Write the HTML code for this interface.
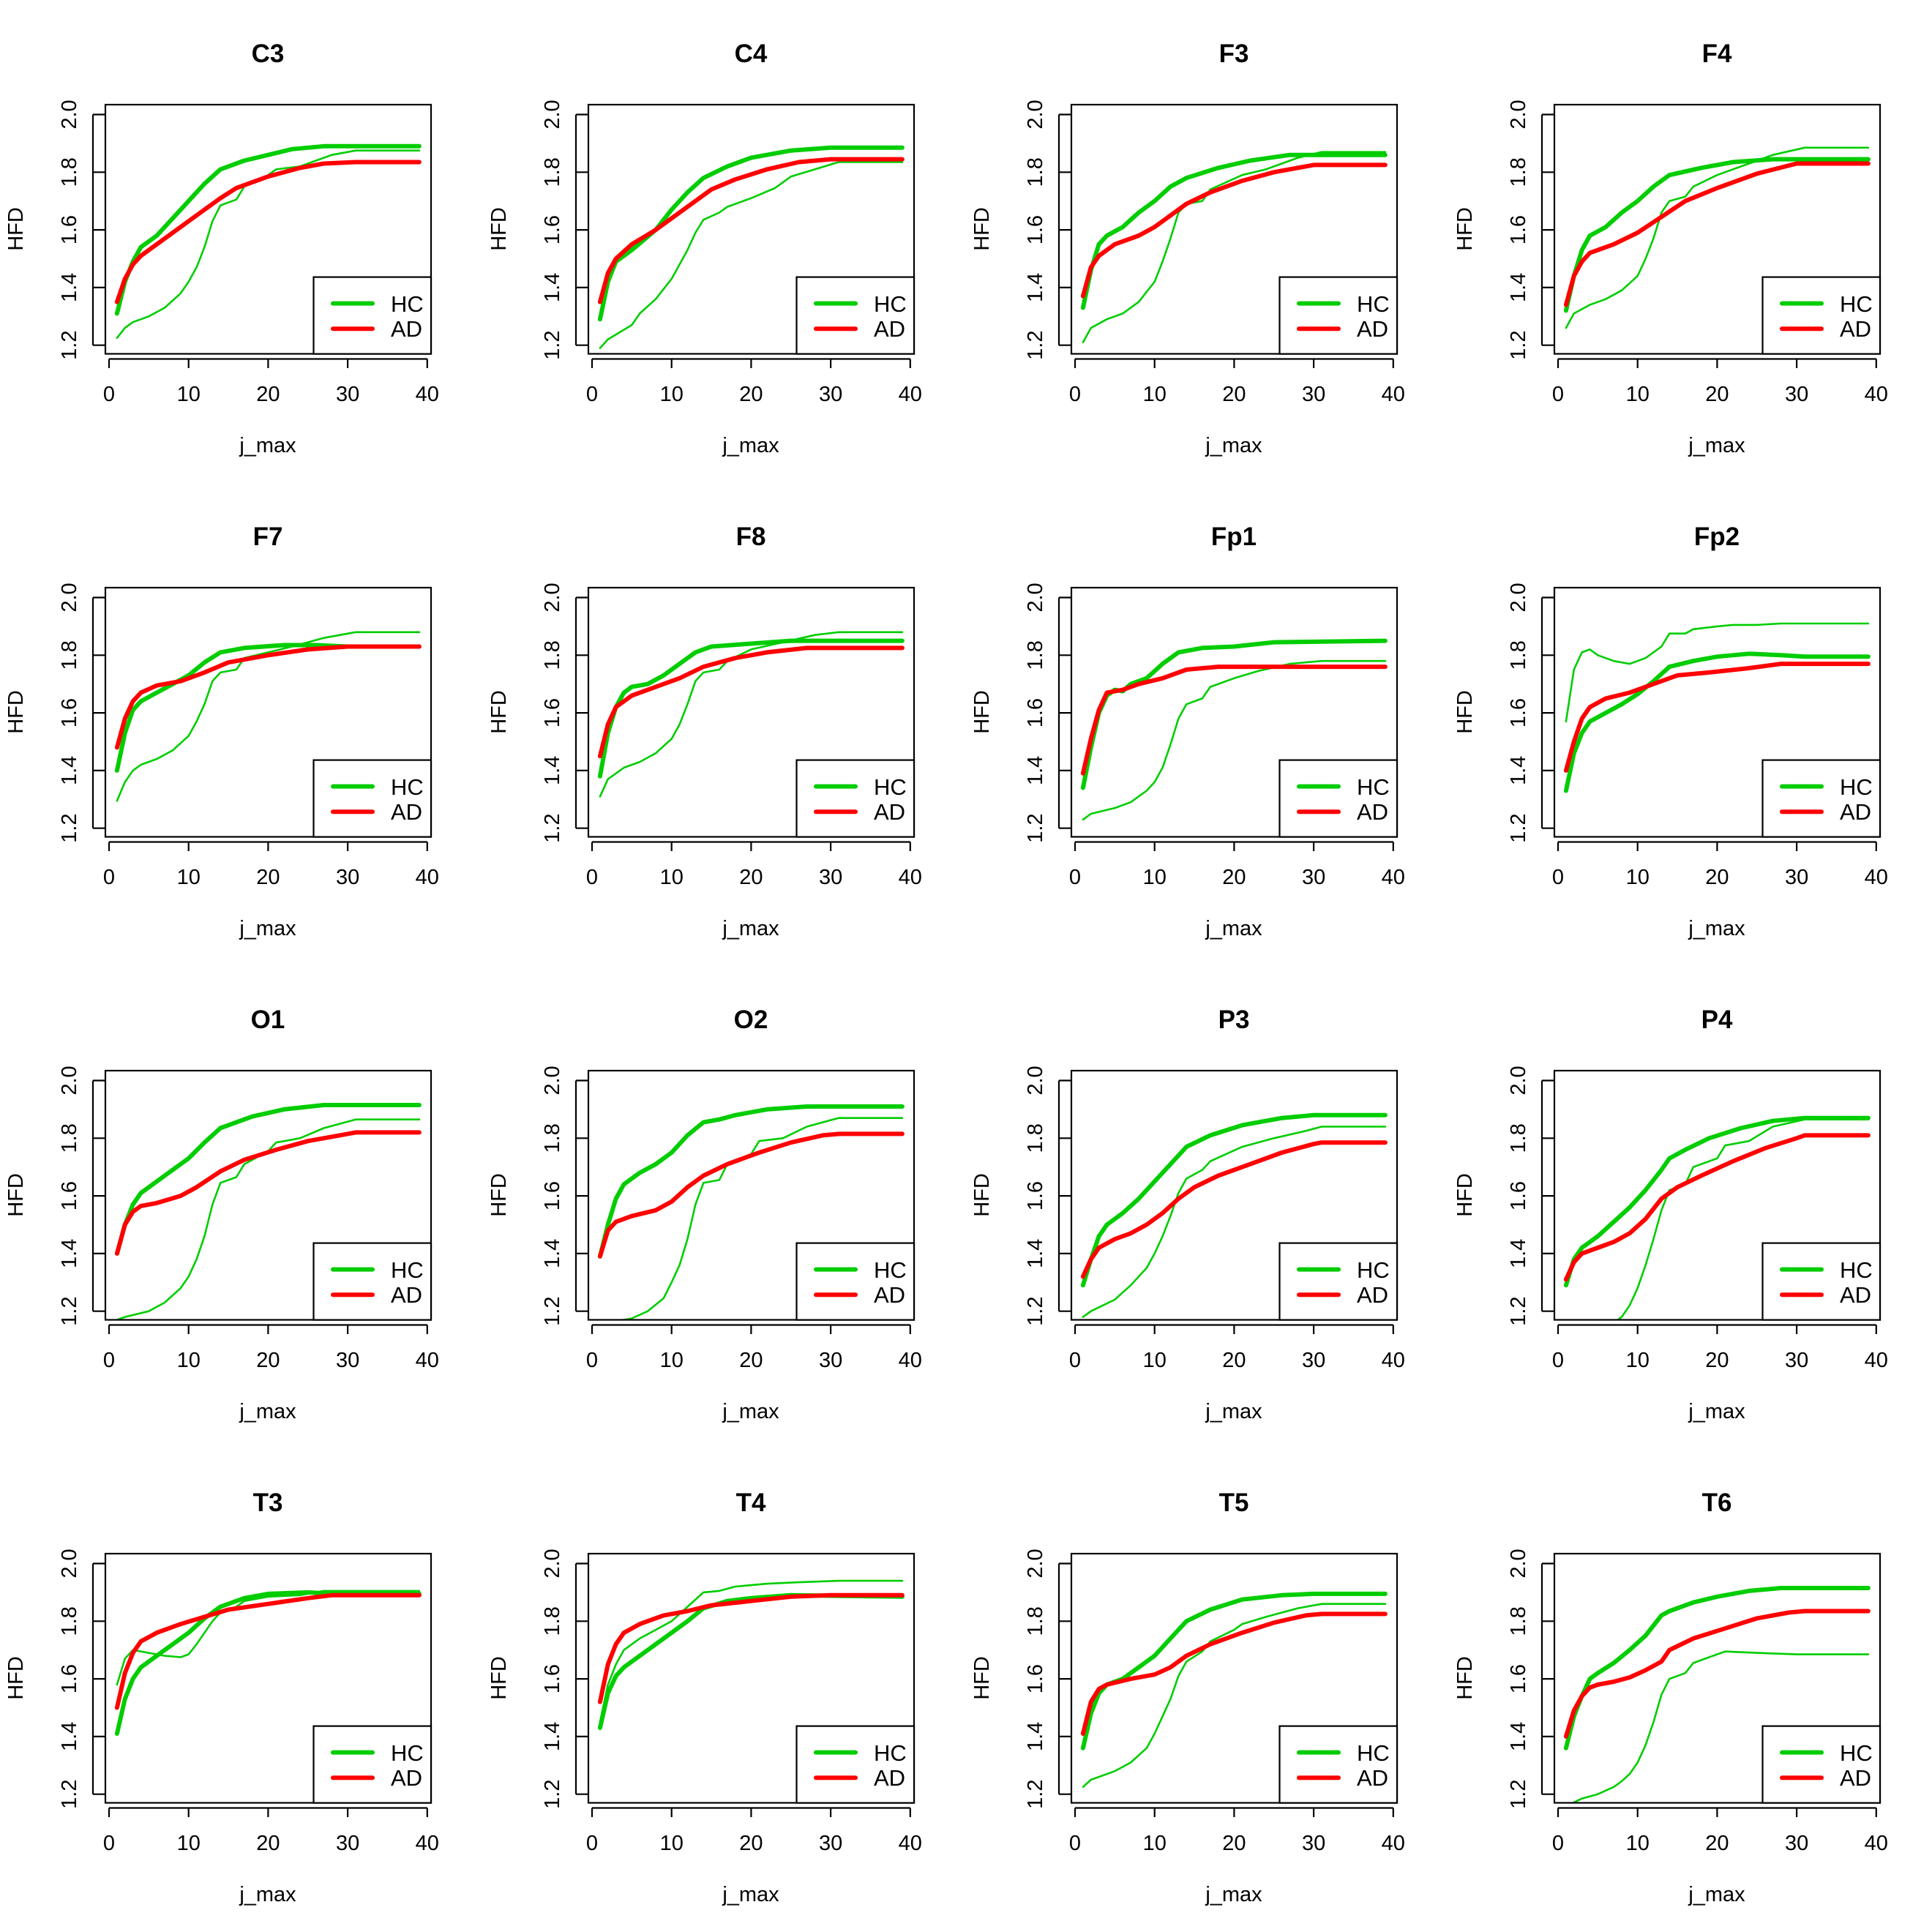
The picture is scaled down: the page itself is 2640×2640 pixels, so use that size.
<!DOCTYPE html>
<html><head><meta charset="utf-8"><style>
html,body{margin:0;padding:0;background:#fff;}
svg{display:block;font-family:"Liberation Sans",Arial,sans-serif;}
</style></head><body>
<svg id="s" width="2640" height="2640" viewBox="0 0 2640 2640" xmlns="http://www.w3.org/2000/svg"></svg>
<script>
const P={
C3:[[[1,1.31],[2,1.42],[3,1.49],[4,1.54],[6,1.58],[8,1.64],[10,1.70],[12,1.76],[14,1.81],[17,1.84],[20,1.86],[23,1.88],[27,1.89],[39,1.89]],
[[1,1.35],[2,1.43],[3,1.48],[4,1.51],[6,1.55],[9,1.61],[12,1.67],[14,1.71],[16,1.745],[20,1.785],[24,1.815],[27,1.83],[31,1.835],[39,1.835]],
[[1,1.225],[2,1.26],[3,1.28],[5,1.30],[7,1.33],[9,1.38],[10,1.42],[11,1.47],[12,1.54],[13,1.63],[14,1.685],[16,1.705],[17,1.75],[20,1.79],[21,1.81],[24,1.82],[28,1.86],[31,1.875],[39,1.875]]],
C4:[[[1,1.29],[2,1.42],[3,1.49],[5,1.53],[8,1.60],[10,1.67],[12,1.73],[14,1.78],[17,1.82],[20,1.85],[25,1.875],[30,1.885],[39,1.885]],
[[1,1.35],[2,1.45],[3,1.50],[5,1.55],[8,1.60],[10,1.64],[13,1.70],[15,1.74],[18,1.775],[22,1.81],[26,1.835],[30,1.845],[39,1.845]],
[[1,1.19],[2,1.22],[5,1.27],[6,1.31],[8,1.36],[10,1.43],[12,1.53],[13,1.59],[14,1.635],[16,1.66],[17,1.68],[20,1.71],[23,1.745],[25,1.785],[28,1.81],[31,1.835],[39,1.835]]],
F3:[[[1,1.33],[2,1.46],[3,1.55],[4,1.58],[6,1.61],[8,1.66],[10,1.70],[12,1.75],[14,1.78],[18,1.815],[22,1.84],[27,1.86],[39,1.86]],
[[1,1.37],[2,1.47],[3,1.51],[5,1.55],[8,1.58],[10,1.61],[12,1.65],[14,1.69],[17,1.73],[21,1.77],[25,1.80],[30,1.825],[39,1.825]],
[[1,1.21],[2,1.26],[4,1.29],[6,1.31],[8,1.35],[10,1.42],[11,1.49],[12,1.57],[13,1.66],[14,1.69],[16,1.70],[17,1.74],[21,1.79],[24,1.81],[28,1.85],[31,1.87],[39,1.87]]],
F4:[[[1,1.32],[2,1.44],[3,1.53],[4,1.58],[6,1.61],[8,1.66],[10,1.70],[12,1.75],[14,1.79],[18,1.815],[22,1.835],[27,1.845],[39,1.845]],
[[1,1.34],[2,1.44],[3,1.49],[4,1.52],[7,1.55],[10,1.59],[13,1.645],[16,1.70],[20,1.745],[25,1.795],[30,1.83],[39,1.83]],
[[1,1.26],[2,1.31],[4,1.34],[6,1.36],[8,1.39],[10,1.44],[11,1.50],[12,1.57],[13,1.66],[14,1.70],[16,1.715],[17,1.75],[20,1.79],[24,1.83],[27,1.86],[31,1.885],[39,1.885]]],
F7:[[[1,1.40],[2,1.53],[3,1.61],[4,1.64],[6,1.67],[8,1.70],[10,1.73],[12,1.775],[14,1.81],[17,1.825],[22,1.835],[26,1.835],[30,1.83],[39,1.83]],
[[1,1.48],[2,1.58],[3,1.64],[4,1.67],[6,1.695],[9,1.71],[12,1.74],[15,1.775],[20,1.80],[25,1.82],[30,1.83],[39,1.83]],
[[1,1.295],[2,1.36],[3,1.40],[4,1.42],[6,1.44],[8,1.47],[10,1.52],[11,1.57],[12,1.63],[13,1.71],[14,1.74],[16,1.75],[17,1.79],[20,1.81],[23,1.83],[27,1.86],[31,1.88],[39,1.88]]],
F8:[[[1,1.38],[2,1.53],[3,1.62],[4,1.67],[5,1.69],[7,1.70],[9,1.73],[11,1.77],[13,1.81],[15,1.83],[20,1.84],[25,1.85],[39,1.85]],
[[1,1.45],[2,1.56],[3,1.62],[5,1.66],[8,1.69],[11,1.72],[14,1.76],[18,1.79],[22,1.81],[27,1.825],[39,1.825]],
[[1,1.31],[2,1.37],[4,1.41],[6,1.43],[8,1.46],[10,1.51],[11,1.56],[12,1.63],[13,1.71],[14,1.74],[16,1.75],[17,1.78],[20,1.82],[24,1.845],[28,1.87],[31,1.88],[39,1.88]]],
Fp1:[[[1,1.34],[2,1.48],[3,1.60],[4,1.66],[5,1.68],[6,1.675],[7,1.70],[9,1.72],[11,1.77],[13,1.81],[16,1.825],[20,1.83],[25,1.845],[39,1.85]],
[[1,1.39],[2,1.51],[3,1.61],[4,1.67],[6,1.68],[8,1.70],[11,1.72],[14,1.75],[18,1.76],[25,1.76],[39,1.76]],
[[1,1.23],[2,1.25],[5,1.27],[7,1.29],[9,1.33],[10,1.36],[11,1.41],[12,1.49],[13,1.58],[14,1.63],[16,1.65],[17,1.69],[20,1.72],[23,1.745],[27,1.77],[31,1.78],[39,1.78]]],
Fp2:[[[1,1.33],[2,1.46],[3,1.53],[4,1.57],[6,1.60],[8,1.63],[10,1.665],[12,1.71],[14,1.76],[17,1.78],[20,1.795],[24,1.805],[28,1.80],[31,1.795],[39,1.795]],
[[1,1.40],[2,1.50],[3,1.58],[4,1.62],[6,1.65],[9,1.67],[12,1.70],[15,1.73],[19,1.74],[24,1.755],[28,1.77],[39,1.77]],
[[1,1.57],[2,1.75],[3,1.81],[4,1.82],[5,1.80],[7,1.78],[9,1.77],[11,1.79],[13,1.83],[14,1.875],[16,1.875],[17,1.89],[20,1.90],[22,1.905],[25,1.905],[28,1.91],[39,1.91]]],
O1:[[[1,1.40],[2,1.50],[3,1.57],[4,1.61],[6,1.65],[8,1.69],[10,1.73],[12,1.785],[14,1.835],[16,1.855],[18,1.875],[22,1.90],[27,1.915],[39,1.915]],
[[1,1.40],[2,1.50],[3,1.545],[4,1.565],[6,1.575],[9,1.60],[11,1.63],[14,1.685],[17,1.725],[21,1.76],[25,1.79],[29,1.81],[31,1.82],[39,1.82]],
[[1,1.17],[2,1.18],[5,1.20],[7,1.23],[9,1.28],[10,1.32],[11,1.38],[12,1.46],[13,1.57],[14,1.645],[16,1.665],[17,1.71],[20,1.755],[21,1.785],[24,1.80],[27,1.835],[31,1.865],[39,1.865]]],
O2:[[[1,1.39],[2,1.50],[3,1.59],[4,1.64],[6,1.68],[8,1.71],[10,1.75],[12,1.81],[14,1.855],[16,1.865],[18,1.88],[22,1.90],[27,1.91],[39,1.91]],
[[1,1.39],[2,1.48],[3,1.51],[5,1.53],[8,1.55],[10,1.58],[12,1.63],[14,1.67],[17,1.71],[21,1.75],[25,1.785],[29,1.81],[31,1.815],[39,1.815]],
[[1,1.16],[3,1.165],[5,1.175],[7,1.20],[9,1.245],[10,1.30],[11,1.36],[12,1.45],[13,1.57],[14,1.645],[16,1.655],[17,1.71],[20,1.745],[21,1.79],[24,1.80],[27,1.84],[31,1.87],[39,1.87]]],
P3:[[[1,1.29],[2,1.38],[3,1.46],[4,1.50],[6,1.54],[8,1.59],[10,1.65],[12,1.71],[14,1.77],[17,1.81],[21,1.845],[26,1.87],[30,1.88],[39,1.88]],
[[1,1.32],[2,1.38],[3,1.42],[5,1.45],[7,1.47],[9,1.50],[11,1.54],[13,1.59],[15,1.63],[18,1.67],[22,1.71],[26,1.75],[30,1.78],[31,1.785],[39,1.785]],
[[1,1.18],[2,1.20],[5,1.24],[7,1.29],[9,1.35],[10,1.40],[11,1.46],[12,1.53],[13,1.61],[14,1.66],[16,1.69],[17,1.72],[21,1.77],[25,1.80],[29,1.825],[31,1.84],[39,1.84]]],
P4:[[[1,1.29],[2,1.38],[3,1.42],[5,1.46],[7,1.51],[9,1.56],[11,1.62],[13,1.69],[14,1.73],[16,1.76],[19,1.80],[23,1.835],[27,1.86],[31,1.87],[39,1.87]],
[[1,1.31],[2,1.37],[3,1.40],[5,1.42],[7,1.44],[9,1.47],[11,1.52],[13,1.59],[15,1.63],[18,1.67],[22,1.72],[26,1.765],[30,1.80],[31,1.81],[39,1.81]],
[[7,1.16],[8,1.18],[9,1.22],[10,1.28],[11,1.36],[12,1.45],[13,1.55],[14,1.62],[16,1.64],[17,1.70],[20,1.73],[21,1.775],[24,1.79],[27,1.84],[31,1.865],[39,1.865]]],
T3:[[[1,1.41],[2,1.53],[3,1.60],[4,1.64],[6,1.68],[8,1.72],[10,1.76],[12,1.81],[14,1.85],[17,1.88],[20,1.895],[25,1.90],[28,1.895],[39,1.895]],
[[1,1.50],[2,1.62],[3,1.69],[4,1.73],[6,1.76],[9,1.79],[12,1.815],[15,1.84],[20,1.86],[25,1.88],[28,1.89],[39,1.89]],
[[1,1.58],[2,1.67],[3,1.70],[5,1.69],[7,1.68],[9,1.675],[10,1.685],[11,1.72],[13,1.80],[14,1.83],[16,1.85],[17,1.87],[20,1.885],[24,1.89],[27,1.905],[31,1.905],[39,1.905]]],
T4:[[[1,1.43],[2,1.55],[3,1.61],[4,1.64],[6,1.68],[8,1.72],[10,1.76],[12,1.80],[14,1.845],[17,1.87],[20,1.88],[25,1.89],[39,1.885]],
[[1,1.52],[2,1.65],[3,1.72],[4,1.76],[6,1.79],[9,1.82],[12,1.835],[15,1.855],[20,1.87],[25,1.885],[30,1.89],[39,1.89]],
[[1,1.45],[2,1.58],[3,1.65],[4,1.70],[6,1.74],[8,1.77],[10,1.80],[12,1.85],[14,1.90],[16,1.905],[18,1.92],[22,1.93],[26,1.935],[31,1.94],[39,1.94]]],
T5:[[[1,1.36],[2,1.48],[3,1.55],[4,1.58],[6,1.60],[8,1.64],[10,1.68],[12,1.74],[14,1.80],[17,1.84],[21,1.875],[26,1.89],[30,1.895],[39,1.895]],
[[1,1.41],[2,1.52],[3,1.565],[4,1.58],[7,1.60],[10,1.615],[12,1.64],[14,1.68],[17,1.72],[21,1.76],[25,1.795],[29,1.82],[31,1.825],[39,1.825]],
[[1,1.225],[2,1.25],[5,1.28],[7,1.31],[9,1.36],[10,1.41],[11,1.47],[12,1.53],[13,1.61],[14,1.66],[16,1.695],[17,1.73],[20,1.77],[21,1.79],[24,1.815],[28,1.845],[31,1.86],[39,1.86]]],
T6:[[[1,1.36],[2,1.47],[3,1.54],[4,1.60],[5,1.62],[7,1.655],[9,1.70],[11,1.75],[13,1.82],[14,1.835],[17,1.865],[20,1.885],[24,1.905],[28,1.915],[39,1.915]],
[[1,1.40],[2,1.49],[3,1.54],[4,1.57],[5,1.58],[7,1.59],[9,1.605],[11,1.63],[13,1.66],[14,1.70],[17,1.74],[21,1.775],[25,1.81],[29,1.83],[31,1.835],[39,1.835]],
[[1.5,1.165],[3,1.185],[5,1.20],[7,1.225],[8,1.245],[9,1.27],[10,1.31],[11,1.37],[12,1.45],[13,1.545],[14,1.60],[16,1.62],[17,1.655],[19,1.675],[21,1.695],[25,1.69],[30,1.685],[39,1.685]]]
};
const names=["C3","C4","F3","F4","F7","F8","Fp1","Fp2","O1","O2","P3","P4","T3","T4","T5","T6"];
const G="#00CD00",R="#FF0000";
let h="";
const X=j=>149+j*10.87, Y=v=>471.7-(v-1.2)*394;
names.forEach((n,i)=>{
 const ox=(i%4)*660, oy=Math.floor(i/4)*660;
 h+=`<g transform="translate(${ox},${oy})">`;
 h+=`<clipPath id="c${i}"><rect x="144" y="143" width="445" height="340"/></clipPath>`;
 h+=`<text x="366" y="85" font-size="35" font-weight="bold" text-anchor="middle">${n}</text>`;
 const d=P[n];
 const pts=a=>a.map(p=>X(p[0]).toFixed(1)+","+Y(p[1]).toFixed(1)).join(" ");
 h+=`<g clip-path="url(#c${i})" fill="none" stroke-linejoin="round" stroke-linecap="round">`;
 h+=`<polyline points="${pts(d[2])}" stroke="${G}" stroke-width="2.6"/>`;
 h+=`<polyline points="${pts(d[0])}" stroke="${G}" stroke-width="6"/>`;
 h+=`<polyline points="${pts(d[1])}" stroke="${R}" stroke-width="6"/>`;
 h+=`</g>`;
 h+=`<rect x="144" y="143" width="445" height="340.5" fill="none" stroke="#000" stroke-width="2.2"/>`;
 // legend
 h+=`<rect x="428.5" y="378.6" width="160.5" height="105" fill="#fff" stroke="#000" stroke-width="2.2"/>`;
 h+=`<line x1="455" y1="414.6" x2="509" y2="414.6" stroke="${G}" stroke-width="6" stroke-linecap="round"/>`;
 h+=`<line x1="455" y1="449.2" x2="509" y2="449.2" stroke="${R}" stroke-width="6" stroke-linecap="round"/>`;
 h+=`<text x="534" y="426" font-size="31">HC</text><text x="534" y="460" font-size="31">AD</text>`;
 // x axis
 h+=`<line x1="149" y1="490.5" x2="583.8" y2="490.5" stroke="#000" stroke-width="2.2"/>`;
 for(let k=0;k<=4;k++){const x=149+k*108.7;h+=`<line x1="${x}" y1="490.5" x2="${x}" y2="503" stroke="#000" stroke-width="2.2"/><text x="${x}" y="548" font-size="29" text-anchor="middle">${k*10}</text>`;}
 // y axis
 h+=`<line x1="127" y1="156.5" x2="127" y2="471.7" stroke="#000" stroke-width="2.2"/>`;
 for(let k=0;k<=4;k++){const v=1.2+k*0.2,y=Y(v);h+=`<line x1="127" y1="${y}" x2="144" y2="${y}" stroke="#000" stroke-width="2.2"/><text transform="translate(104,${y}) rotate(-90)" font-size="29" text-anchor="middle">${v.toFixed(1)}</text>`;}
 h+=`<text x="366" y="618" font-size="29" text-anchor="middle">j_max</text>`;
 h+=`<text transform="translate(31,313) rotate(-90)" font-size="29" text-anchor="middle">HFD</text>`;
 h+=`</g>`;
});
document.getElementById("s").innerHTML=h;
</script>
</body></html>
